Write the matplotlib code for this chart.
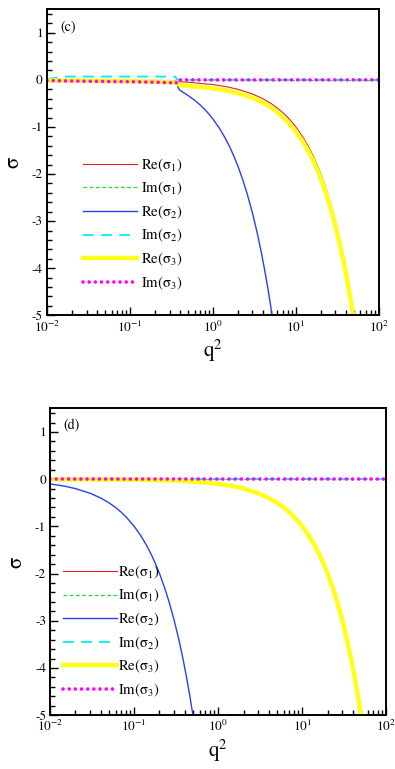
import matplotlib
matplotlib.use("Agg")
import matplotlib.pyplot as plt
from matplotlib.ticker import LogLocator, MultipleLocator, NullFormatter

plt.rcParams["font.family"] = ["STIXGeneral", "DejaVu Serif"]
plt.rcParams["mathtext.fontset"] = "stix"
plt.rcParams["axes.unicode_minus"] = False

# ---------------- panel (c) ----------------
c_re1_q2 = [0.01, 0.03, 0.1, 0.3, 0.5, 1, 1.5, 2, 3, 4, 5, 6, 7, 8, 9, 10, 12, 14, 16,
            18, 20, 23, 26, 30, 34, 38, 42, 46, 50, 55]
c_re1 = [-0.001, -0.003, -0.01, -0.03, -0.05, -0.1, -0.15, -0.2, -0.3, -0.4, -0.5, -0.6,
         -0.7, -0.8, -0.9, -1.0, -1.2, -1.4, -1.6, -1.8, -2.0, -2.3, -2.6, -3.0, -3.4,
         -3.8, -4.2, -4.6, -5.0, -5.5]

c_im1_q2 = [0.01, 100]
c_im1 = [0.0, 0.0]

c_re2_q2 = [0.01, 0.03, 0.1, 0.2, 0.3, 0.36, 0.37, 0.38, 0.4, 0.45, 0.5, 0.6, 0.7, 0.8,
            0.9, 1, 1.2, 1.4, 1.6, 1.8, 2, 2.3, 2.6, 3, 3.4, 3.8, 4.2, 4.6, 5, 5.5]
c_re2 = [-0.014, -0.02, -0.03, -0.04, -0.05, -0.06, -0.07, -0.16, -0.22, -0.28, -0.33,
         -0.43, -0.53, -0.63, -0.73, -0.83, -1.03, -1.23, -1.43, -1.63, -1.83, -2.13,
         -2.43, -2.83, -3.23, -3.63, -4.03, -4.43, -4.83, -5.33]

c_im2_q2 = [0.01, 0.017, 0.05, 0.1, 0.2, 0.3, 0.355, 0.37, 1, 100]
c_im2 = [0.02, 0.07, 0.07, 0.07, 0.07, 0.07, 0.065, 0.0, 0.0, 0.0]

c_re3_q2 = [0.01, 0.03, 0.1, 0.2, 0.3, 0.36, 0.37, 0.4, 0.5, 0.7, 1, 1.5, 2, 3, 4, 5, 6,
            7, 8, 9, 10, 12, 14, 16, 18, 20, 23, 26, 30, 34, 38, 42, 46, 50, 55]
c_re3 = [-0.014, -0.02, -0.03, -0.04, -0.05, -0.06, -0.07, -0.11, -0.13, -0.15, -0.18,
         -0.23, -0.28, -0.38, -0.48, -0.58, -0.69, -0.8, -0.9, -1.0, -1.1, -1.3, -1.5,
         -1.7, -1.9, -2.1, -2.4, -2.7, -3.1, -3.5, -3.9, -4.3, -4.7, -5.1, -5.6]

c_im3_q2 = [0.01, 0.03, 0.1, 0.2, 0.3, 0.36, 0.37, 1, 100]
c_im3 = [-0.015, -0.03, -0.04, -0.05, -0.06, -0.07, 0.0, 0.0, 0.0]

# ---------------- panel (d) ----------------
d_re1_q2 = [0.01, 0.1, 0.3, 0.5, 1, 1.5, 2, 3, 4, 5, 6, 7, 8, 9, 10, 12, 14, 16, 18, 20,
            23, 26, 30, 34, 38, 42, 46, 50, 55]
d_re1 = [-0.001, -0.01, -0.03, -0.05, -0.1, -0.15, -0.2, -0.3, -0.4, -0.5, -0.6, -0.7,
         -0.8, -0.9, -1.0, -1.2, -1.4, -1.6, -1.8, -2.0, -2.3, -2.6, -3.0, -3.4, -3.8,
         -4.2, -4.6, -5.0, -5.5]

d_im1_q2 = [0.01, 100]
d_im1 = [0.0, 0.0]

d_re2_q2 = [0.01, 0.015, 0.02, 0.03, 0.04, 0.05, 0.06, 0.07, 0.08, 0.1, 0.12, 0.14, 0.16,
            0.18, 0.2, 0.23, 0.26, 0.3, 0.34, 0.38, 0.42, 0.46, 0.5, 0.55]
d_re2 = [-0.1, -0.15, -0.2, -0.3, -0.4, -0.5, -0.6, -0.7, -0.8, -1.0, -1.2, -1.4, -1.6,
         -1.8, -2.0, -2.3, -2.6, -3.0, -3.4, -3.8, -4.2, -4.6, -5.0, -5.5]

d_im2_q2 = [0.01, 100]
d_im2 = [0.0, 0.0]

d_re3_q2 = [0.01, 0.1, 0.3, 0.5, 1, 1.5, 2, 3, 4, 5, 6, 7, 8, 9, 10, 12, 14, 16, 18, 20,
            23, 26, 30, 34, 38, 42, 46, 50, 55]
d_re3 = [-0.001, -0.01, -0.03, -0.05, -0.1, -0.15, -0.2, -0.3, -0.4, -0.5, -0.6, -0.7,
         -0.8, -0.9, -1.0, -1.2, -1.4, -1.6, -1.8, -2.0, -2.3, -2.6, -3.0, -3.4, -3.8,
         -4.2, -4.6, -5.0, -5.5]

d_im3_q2 = [0.01, 100]
d_im3 = [0.0, 0.0]

labels = ["Re(σ$_1$)", "Im(σ$_1$)", "Re(σ$_2$)", "Im(σ$_2$)", "Re(σ$_3$)", "Im(σ$_3$)"]
y_ticks = [-5, -4, -3, -2, -1, 0, 1]

styles = [
    dict(color="#e02020", lw=0.8, ls="-"),
    dict(color="#22dd22", lw=0.9, ls=(0, (3, 2))),
    dict(color="#2a3ff0", lw=1.0, ls="-"),
    dict(color="#00f0f0", lw=1.3, ls=(0, (6, 4))),
    dict(color="#ffff1a", lw=3.2, ls="-"),
    dict(color="#ff00ff", lw=2.6, ls=(0, (0.01, 1.7)), dash_capstyle="round"),
]


def draw_panel(ax, series, tag, leg_anchor, leg_pad):
    for (x, y), st, lab in zip(series, styles, labels):
        ax.plot(x, y, label=lab, **st)
    ax.set_xscale("log")
    ax.set_xlim(1e-2, 1e2)
    ax.set_ylim(-5, 1.5)
    ax.set_yticks(y_ticks)
    ax.yaxis.set_minor_locator(MultipleLocator(0.2))
    ax.xaxis.set_major_locator(LogLocator(base=10, numticks=10))
    ax.xaxis.set_minor_locator(LogLocator(base=10, subs=range(2, 10), numticks=20))
    ax.xaxis.set_minor_formatter(NullFormatter())
    ax.tick_params(which="both", direction="in", top=False, right=False,
                   labelsize=9.5, width=1.0)
    ax.tick_params(which="major", length=6, pad=3)
    ax.tick_params(which="minor", length=3.5)
    for s in ax.spines.values():
        s.set_linewidth(1.4)
    ax.set_xlabel("q$^2$", fontsize=15, labelpad=2)
    ax.set_ylabel("σ", fontsize=15, labelpad=6)
    ax.text(0.04, 0.965, tag, transform=ax.transAxes, fontsize=10, va="top", ha="left")
    ax.legend(loc="upper left", bbox_to_anchor=leg_anchor, frameon=False, fontsize=10.5,
              handlelength=3.7, handletextpad=leg_pad, labelspacing=0.43,
              borderpad=0, borderaxespad=0)


fig = plt.figure(figsize=(3.95, 7.69), dpi=100)
ax_c = fig.add_axes([0.119, 0.590, 0.840, 0.398])
ax_d = fig.add_axes([0.127, 0.070, 0.851, 0.399])

draw_panel(ax_c, [(c_re1_q2, c_re1), (c_im1_q2, c_im1), (c_re2_q2, c_re2),
                  (c_im2_q2, c_im2), (c_re3_q2, c_re3), (c_im3_q2, c_im3)],
           "(c)", (0.108, 0.52), 0.3)
draw_panel(ax_d, [(d_re1_q2, d_re1), (d_im1_q2, d_im1), (d_re2_q2, d_re2),
                  (d_im2_q2, d_im2), (d_re3_q2, d_re3), (d_im3_q2, d_im3)],
           "(d)", (0.038, 0.495), 0.05)

fig.savefig("out.png", dpi=100)
